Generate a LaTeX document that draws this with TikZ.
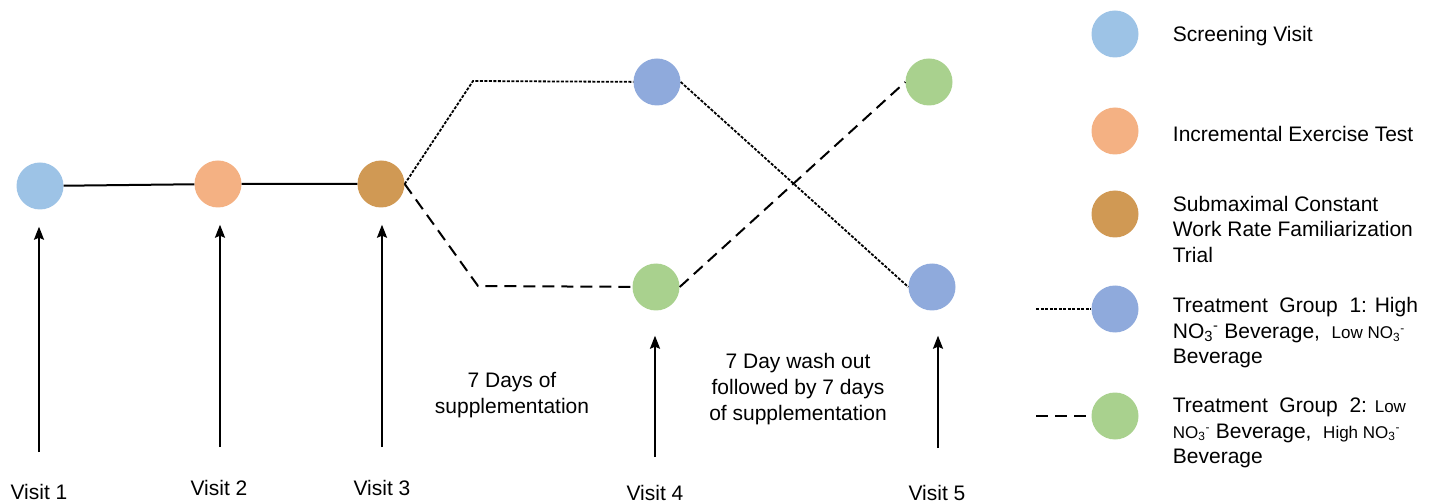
\documentclass[tikz,border=0pt]{standalone}
\usepackage{fontspec}
\setmainfont{Liberation Sans}
\usetikzlibrary{arrows.meta,positioning}
\definecolor{screenblue}{HTML}{9DC3E6}
\definecolor{incorange}{HTML}{F4B183}
\definecolor{subbrown}{RGB}{208,153,84}
\definecolor{grpblue}{HTML}{8FAADC}
\definecolor{grpgreen}{HTML}{A9D18E}
\tikzset{
    %Define standard arrow tip
    >={Stealth[length=13pt,width=10pt,inset=2pt]},
    %Define style for visit circles
    sirkel/.style={
           circle,
           inner sep=0pt,
           minimum size=47pt},
    %Define style for texts
    tekst/.style={
           font=\fontsize{21}{26}\selectfont,
           align=center},
    legtekst/.style={
           font=\fontsize{21}{25.5}\selectfont,
           align=left,
           inner sep=0pt},
    % Define arrow and line styles
    pil/.style={
           ->,
           line width=2pt},
    prikk/.style={
           line width=1.8pt,
           dash pattern=on 3pt off 1.5pt},
    strek/.style={
           line width=2pt,
           dash pattern=on 12pt off 7pt}
}
\begin{document}
\begin{tikzpicture}[x=1pt,y=-1pt]
\useasboundingbox (0,0) rectangle (1447,502);
 %nodes
\node[sirkel,fill=screenblue](v1) at (40,186){};
\node[sirkel,fill=incorange](v2) at (218,184){};
\node[sirkel,fill=subbrown](v3) at (381,184){};
\node[sirkel,fill=grpblue](v4a) at (657,82){};
\node[sirkel,fill=grpgreen](v4b) at (656,287){};
\node[sirkel,fill=grpgreen](v5a) at (929,82){};
\node[sirkel,fill=grpblue](v5b) at (932,287){};

\node[tekst](l1) at (39,492){Visit 1};
\node[tekst](l2) at (219,488){Visit 2};
\node[tekst](l3) at (382,488){Visit 3};
\node[tekst](l4) at (655,493){Visit 4};
\node[tekst](l5) at (937,493){Visit 5};

\node[tekst](s1) at (512,395){7 Days of\\supplementation};
\node[tekst](s2) at (798,389){7 Day wash out\\followed by 7 days\\of supplementation};

 %arrows
\coordinate (a1) at (39,452);
\coordinate (a2) at (220,447);
\coordinate (a3) at (382,447);
\coordinate (a4) at (655,457);
\coordinate (a5) at (938,448);
\draw[pil,shorten >=17pt] (a1) -- (a1 |- v1.south);
\draw[pil,shorten >=17pt] (a2) -- (a2 |- v2.south);
\draw[pil,shorten >=17pt] (a3) -- (a3 |- v3.south);
\draw[pil,shorten >=25pt] (a4) -- (a4 |- v4b.south);
\draw[pil,shorten >=25pt] (a5) -- (a5 |- v5b.south);

 %lines
\coordinate (k1) at (473,81);
\coordinate (k2) at (478,286);
\draw[line width=2pt] (v1) -- (v2) (v2) -- (v3);
\draw[prikk] (v3.east) -- (k1) -- (v4a);
\draw[strek] (v3.east) -- (k2) -- (v4b);
\draw[prikk] (v4a.east) -- (v5b.west);
\draw[strek] (v4b.east) -- (v5a.west);

 %legend
\node[sirkel,fill=screenblue](g1) at (1115,34){};
\node[sirkel,fill=incorange](g2) at (1115,131){};
\node[sirkel,fill=subbrown](g3) at (1115,214){};
\node[sirkel,fill=grpblue](g4) at (1115,309){};
\node[sirkel,fill=grpgreen](g5) at (1115,416){};

\node[legtekst,right=34pt of g1,yshift=-2pt](t1){Screening Visit};
\node[legtekst,right=34pt of g2,yshift=-3pt](t2){Incremental Exercise Test};
\node[legtekst,right=34pt of g3,yshift=-15pt](t3){Submaximal Constant\\Work Rate Familiarization\\Trial};
\node[legtekst,right=34pt of g4,yshift=-24pt](t4){Treatment\ \ Group\ \ 1: High\\NO\textsubscript{3}\textsuperscript{-} Beverage,\ \ {\fontsize{17}{20}\selectfont Low NO\textsubscript{3}\textsuperscript{-}}\\Beverage};
\node[legtekst,right=34pt of g5,yshift=-17pt](t5){Treatment\ \ Group\ \ 2: {\fontsize{17}{20}\selectfont Low}\\{\fontsize{17}{20}\selectfont NO\textsubscript{3}\textsuperscript{-}} Beverage,\ \ {\fontsize{17}{20}\selectfont High NO\textsubscript{3}\textsuperscript{-}}\\Beverage};

\coordinate[left=55pt of g4.west] (d4);
\coordinate[left=55pt of g5.west] (d5);
\draw[prikk] (d4) -- (g4);
\draw[strek] (d5) -- (g5);
\end{tikzpicture}
\end{document}
